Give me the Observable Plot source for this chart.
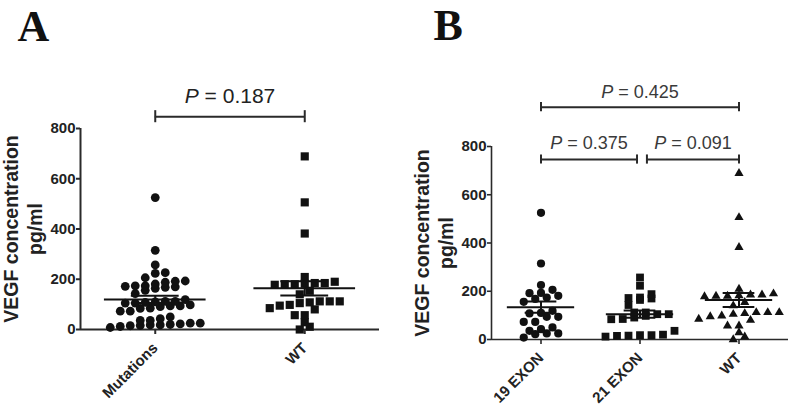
<!DOCTYPE html>
<html><head><meta charset="utf-8">
<script src="https://cdn.jsdelivr.net/npm/d3@7"></script>
<script src="https://cdn.jsdelivr.net/npm/@observablehq/plot@0.6"></script>
<style>
body{margin:0;background:#fff;}
#wrap{position:relative;width:792px;height:406px;overflow:hidden;font-family:"Liberation Sans",Arial,sans-serif;}
.panel{position:absolute;top:0;}
</style></head><body>
<div id="wrap">
<div class="panel" id="pa" style="left:0"></div>
<div class="panel" id="pb" style="left:400px"></div>
</div>
<script>
// ---- data (VEGF concentration, pg/ml) ----
const panelLetters = ["A", "B"];
const groupsA = ["Mutations", "WT"];
const groupsB = ["19 EXON", "21 EXON", "WT"];
const exon19 = [525, 315, 226, 206, 193, 192, 181, 174, 168, 156, 119, 110, 108, 94, 94, 73, 73, 50, 43, 36, 25, 25, 22, 8];
const exon21 = [257, 223, 188, 174, 172, 170, 164, 143, 112, 112, 105, 105, 98, 91, 85, 84, 36, 20, 18, 18, 16, 15, 12];
const wildType = [689, 506, 382, 209, 190, 185, 185, 182, 180, 180, 178, 154, 140, 112, 112, 112, 108, 105, 98, 95, 85, 80, 57, 57, 29, 11, 0];
const mutations = exon19.concat(exon21);
const yTicks = [0, 200, 400, 600, 800];
const pValuesA = [{from: 0, to: 1, label: "0.187"}];
const pValuesB = [{from: 0, to: 2, label: "0.425"}, {from: 0, to: 0.97, label: "0.375"}, {from: 1.07, to: 2, label: "0.091"}];

// GraphPad-like column scatter: rows of points with similar values, centered
function columnScatter(values, bin, gap) {
  const s = values.slice().sort((a, b) => a - b);
  const out = [];
  let i = 0;
  while (i < s.length) {
    const start = s[i];
    let j = i;
    while (j < s.length && s[j] - start < bin) j++;
    const n = j - i;
    for (let k = 0; k < n; k++) out.push({v: s[i + k], off: (k - (n - 1) / 2) * gap});
    i = j;
  }
  return out;
}

function panel(cfg) {
  const n = cfg.groups.length;
  const step = (cfg.width - cfg.ml - cfg.mr) / n;
  const marks = [];
  const stats = cfg.series.map((vals, g) => {
    const m = d3.mean(vals), se = d3.deviation(vals) / Math.sqrt(vals.length);
    return {g, mean: m, lo: m - se, hi: m + se};
  });
  const lfs = 44;
  marks.push(Plot.text([cfg.letter], {frameAnchor: "top-left", textAnchor: "start", lineAnchor: "middle", dx: cfg.letterX - cfg.ml, dy: cfg.letterBase - 0.32 * lfs - cfg.mt, fontSize: lfs, fontWeight: "bold", fontFamily: '"Liberation Serif", "Times New Roman", serif', fill: "#111"}));
  marks.push(Plot.ruleY([0], {x1: -0.5, x2: n - 0.5, stroke: "#2a2a2a", strokeWidth: cfg.axisW}));
  marks.push(Plot.ruleX([-0.5], {y1: 0, y2: 800, stroke: "#2a2a2a", strokeWidth: cfg.axisW}));
  marks.push(Plot.axisY({ticks: yTicks, tickSize: 4, tickPadding: 1, fontSize: 15, fontWeight: "bold", fill: "#222", stroke: "#2a2a2a", strokeWidth: cfg.axisW, label: null}));
  marks.push(Plot.axisX({ticks: d3.range(n), tickFormat: i => cfg.groups[i], tickRotate: -45, tickSize: 5, tickPadding: 11, fontSize: 15, fontWeight: "bold", fill: "#222", stroke: "#2a2a2a", strokeWidth: cfg.axisW, label: null}));
  marks.push(Plot.text(["VEGF concentration\npg/ml"], {frameAnchor: "left", textAnchor: "middle", rotate: -90, dx: cfg.titleDx, fontSize: 19.5, fontWeight: "bold", lineHeight: 1.2, fill: "#222"}));
  cfg.series.forEach((vals, g) => {
    const pts = columnScatter(vals, cfg.bin, cfg.gap / step).map(p => ({x: g + p.off, v: p.v}));
    marks.push(Plot.dot(pts, {x: "x", y: "v", symbol: cfg.symbols[g], r: cfg.r[g], fill: "#111", stroke: "none"}));
  });
  const mw = 0.34, sw = 0.16;
  marks.push(Plot.ruleY(stats, {y: "mean", x1: d => d.g - mw, x2: d => d.g + mw, stroke: "#111", strokeWidth: 2}));
  marks.push(Plot.ruleY(stats, {y: "hi", x1: d => d.g - sw, x2: d => d.g + sw, stroke: "#111", strokeWidth: 2}));
  marks.push(Plot.ruleY(stats, {y: "lo", x1: d => d.g - sw, x2: d => d.g + sw, stroke: "#111", strokeWidth: 2}));
  marks.push(Plot.ruleX(stats, {x: "g", y1: "lo", y2: "hi", stroke: "#111", strokeWidth: 2}));
  // significance brackets
  const br = cfg.brackets.map((b, i) => ({...b, level: cfg.levels[i], ty: cfg.textLevels[i]}));
  marks.push(Plot.ruleY(br, {y: "level", x1: "from", x2: "to", stroke: "#2a2a2a", strokeWidth: 2}));
  marks.push(Plot.ruleX(br, {x: "from", y1: d => d.level - cfg.endH, y2: d => d.level + cfg.endH, stroke: "#2a2a2a", strokeWidth: 2}));
  marks.push(Plot.ruleX(br, {x: "to", y1: d => d.level - cfg.endH, y2: d => d.level + cfg.endH, stroke: "#2a2a2a", strokeWidth: 2}));
  marks.push(Plot.text(br, {x: d => (d.from + d.to) / 2, y: "ty", text: d => "P = " + d.label, fontSize: cfg.pSize, fill: cfg.pColor}));
  const svg = Plot.plot({
    width: cfg.width, height: 406,
    marginLeft: cfg.ml, marginRight: cfg.mr, marginTop: cfg.mt, marginBottom: cfg.mb,
    x: {domain: [-0.5, n - 0.5], axis: null},
    y: {domain: [0, 800], axis: null},
    style: {fontFamily: '"Liberation Sans", Arial, sans-serif', overflow: "visible", background: "transparent"},
    marks
  });
  Array.from(svg.querySelectorAll("text")).filter(t => t.textContent.startsWith("P = ")).forEach(t => {
    const rest = t.textContent.slice(1);
    while (t.firstChild) t.removeChild(t.firstChild);
    const ts = document.createElementNS("http://www.w3.org/2000/svg", "tspan");
    ts.setAttribute("font-style", "italic");
    ts.style.fontStyle = "italic";
    ts.textContent = "P";
    t.appendChild(ts);
    t.appendChild(document.createTextNode(rest));
  });
  return svg;
}

document.getElementById("pa").appendChild(panel({
  letter: panelLetters[0], letterX: 17, letterBase: 40.5,
  groups: groupsA, series: [mutations, wildType], symbols: ["circle", "square"], r: [4.4, 4.6],
  width: 395, ml: 80, mr: 16, mt: 128, mb: 77, bin: 28, gap: 10, axisW: 2,
  titleDx: -58, brackets: pValuesA, levels: [847], textLevels: [930], endH: 24, pSize: 21, pColor: "#222"
}));
document.getElementById("pb").appendChild(panel({
  letter: panelLetters[1], letterX: 33, letterBase: 39,
  groups: groupsB, series: [exon19, exon21, wildType], symbols: ["circle", "square", "triangle"], r: [4.1, 4.4, 3.4],
  width: 392, ml: 91, mr: 4, mt: 146, mb: 67, bin: 28, gap: 11.5, axisW: 1.6,
  titleDx: -58, brackets: pValuesB, levels: [963, 746, 746], textLevels: [1026, 814, 814], endH: 19, pSize: 18, pColor: "#3a3a3a"
}));
</script>
</body></html>
